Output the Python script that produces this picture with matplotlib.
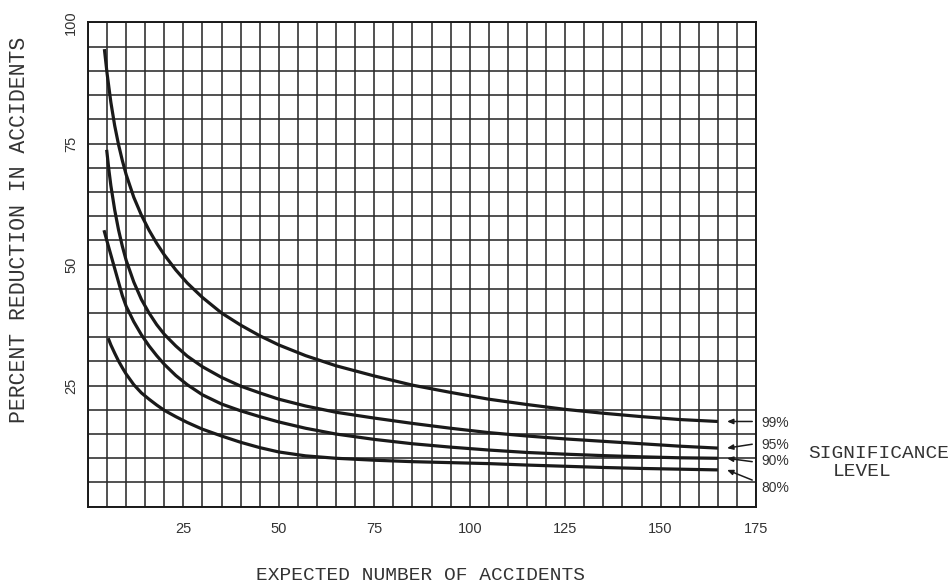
import numpy as np
from matplotlib import pyplot as plt

# readings: expected accidents (x) vs percent reduction (y)
x_99 = [4.3, 5, 6, 7, 8, 9, 10, 12, 14, 16, 18, 20, 23, 26, 30, 35, 40, 45, 50, 57, 65, 75,
        85, 95, 105, 115, 125, 135, 145, 155, 165]
y_99 = [94.5, 89.5, 83.5, 78.7, 74.8, 71.5, 68.6, 63.9, 60.2, 57.1, 54.4, 52.0, 48.9, 46.2, 43.2,
        40.0, 37.5, 35.3, 33.4, 31.2, 29.1, 27.0, 25.1, 23.6, 22.2, 21.1, 20.1, 19.3, 18.6, 18.0, 17.6]

x_95 = [4.9, 5.5, 6, 7, 8, 9, 10, 12, 14, 16, 18, 20, 23, 26, 30, 35, 40, 45, 50, 57, 65, 75,
        85, 95, 105, 115, 125, 135, 145, 155, 165]
y_95 = [73.7, 69.4, 66.3, 61.3, 57.2, 53.8, 50.9, 46.4, 42.8, 40.0, 37.6, 35.6, 33.2, 31.1, 28.9,
        26.7, 24.9, 23.5, 22.2, 20.8, 19.5, 18.3, 17.2, 16.2, 15.3, 14.6, 14.0, 13.5, 13.0, 12.5, 12.1]

x_90 = [4.2, 5, 6, 7, 8, 9, 10, 12, 14, 16, 18, 20, 23, 26, 30, 35, 40, 45, 50, 57, 65, 75,
        85, 95, 105, 115, 125, 135, 145, 155, 165]
y_90 = [57.1, 54.8, 52.0, 49.2, 46.4, 43.6, 41.4, 38.2, 35.5, 33.2, 31.2, 29.4, 27.1, 25.2, 23.1,
        21.2, 19.8, 18.6, 17.5, 16.2, 15.0, 13.9, 13.0, 12.3, 11.7, 11.2, 10.85, 10.55, 10.3, 10.1, 10.0]

x_80 = [5.3, 6, 7, 8, 9, 10, 12, 14, 16, 18, 20, 23, 26, 30, 35, 40, 45, 50, 57, 65, 75,
        85, 95, 105, 115, 125, 135, 145, 155, 165]
y_80 = [34.8, 33.4, 31.7, 30.1, 28.7, 27.4, 25.2, 23.5, 22.2, 21.0, 19.9, 18.6, 17.4, 16.0, 14.6,
        13.3, 12.2, 11.3, 10.5, 10.0, 9.6, 9.3, 9.1, 8.9, 8.6, 8.35, 8.1, 7.9, 7.75, 7.6]

levels = ['99%', '95%', '90%', '80%']
x_ticks = [25, 50, 75, 100, 125, 150, 175]
y_ticks = [25, 50, 75, 100]

# label placement (arrow tail, label text y)
arrow_tail_y = [17.6, 12.9, 9.3, 5.5]
label_y = [17.3, 12.7, 9.4, 3.9]

ink = '#1a1a1a'
mono = 'Liberation Mono'
sans = 'Liberation Sans'

fig = plt.figure(figsize=(9.51, 5.87), dpi=100)
ax = fig.add_axes([0.0925, 0.1368, 0.7025, 0.8249])
ax.set_xlim(0, 175)
ax.set_ylim(0, 100)

ax.set_xticks(np.arange(0, 176, 5), minor=True)
ax.set_yticks(np.arange(0, 101, 5), minor=True)
ax.set_xticks(x_ticks)
ax.set_yticks(y_ticks)
ax.set_xticklabels([str(t) for t in x_ticks], fontfamily=sans, fontsize=10.5, color='#333333')
ax.set_yticklabels([str(t) for t in y_ticks], fontfamily=sans, fontsize=10.5, color='#333333',
                   rotation=90, va='center')
ax.tick_params(which='both', length=0)
ax.tick_params(axis='x', pad=11)
ax.tick_params(axis='y', pad=7)
ax.grid(which='both', color='#2b2b2b', linewidth=1.15)
ax.set_axisbelow(True)
for s in ax.spines.values():
    s.set_color(ink)
    s.set_linewidth(1.4)

series = [(x_99, y_99), (x_95, y_95), (x_90, y_90), (x_80, y_80)]
for (xs, ys), lvl, ty, ly in zip(series, levels, arrow_tail_y, label_y):
    ax.plot(xs, ys, color=ink, linewidth=2.3, solid_capstyle='butt', solid_joinstyle='round', zorder=3)
    ax.annotate('', xy=(xs[-1] + 2.4, ys[-1]), xytext=(174, ty),
                arrowprops=dict(arrowstyle='-|>,head_length=0.35,head_width=0.15',
                                color=ink, linewidth=1.1, shrinkA=0, shrinkB=0),
                annotation_clip=False, zorder=4)
    ax.text(176.3, ly, lvl, fontfamily=sans, fontsize=10, color='#333333',
            ha='left', va='center', clip_on=False)

fig.text(0.924, 0.228, 'SIGNIFICANCE', fontfamily=mono, fontsize=14, color='#333333',
         ha='center', va='center')
fig.text(0.907, 0.196, 'LEVEL', fontfamily=mono, fontsize=14, color='#333333',
         ha='center', va='center')

fig.text(0.442, 0.02, 'EXPECTED NUMBER OF ACCIDENTS', fontfamily=mono, fontsize=14,
         color='#333333', ha='center', va='center')
fig.text(0.021, 0.608, 'PERCENT REDUCTION IN ACCIDENTS', fontfamily=mono, fontsize=15.5,
         color='#333333', ha='center', va='center', rotation=90)

fig.savefig('out.png', dpi=100)
